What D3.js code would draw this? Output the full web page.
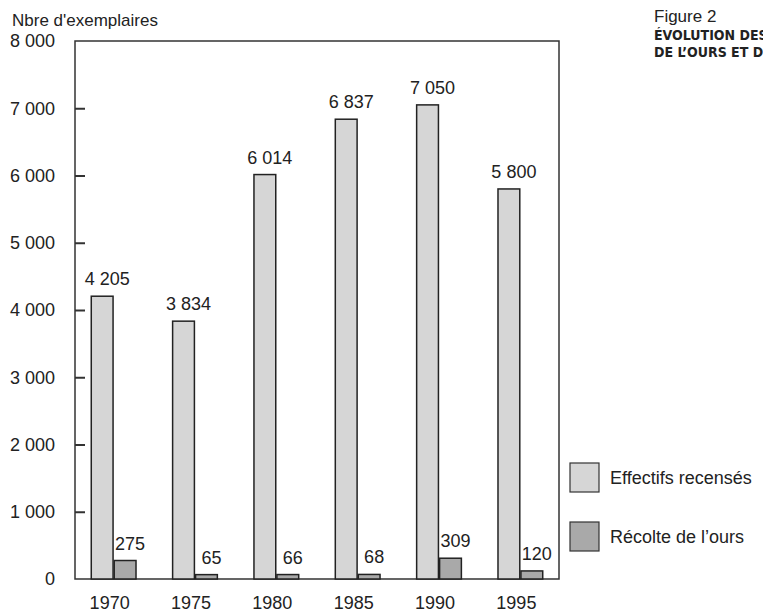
<!DOCTYPE html>
<html>
<head>
<meta charset="utf-8">
<script src="https://cdn.jsdelivr.net/npm/d3@7"></script>
<style>
  body { margin: 0; background: #fff; }
  text { font-family: "Liberation Sans", Arial, sans-serif; fill: #222; }
  .title-bold { font-family: "Liberation Sans Narrow", "DejaVu Sans Condensed", sans-serif; font-weight: bold; }
</style>
</head>
<body>
<svg></svg>
<script>
// Data
const years = ["1970", "1975", "1980", "1985", "1990", "1995"];
const effectifs = [4205, 3834, 6014, 6837, 7050, 5800];
const recolte = [275, 65, 66, 68, 309, 120];
const seriesNames = ["Effectifs recensés", "Récolte de l\u2019ours"];
const yTicks = [0, 1000, 2000, 3000, 4000, 5000, 6000, 7000, 8000];

// Svg element dimensions
const width = 763;
const height = 613;
const svg = d3.select("svg").attr("width", width).attr("height", height);

const frame = { left: 75, right: 559, top: 41, bottom: 579 };
const colors = ["#d6d6d6", "#a9a9a9"];

// French number format: "4 205"
const fr = d3.formatLocale({ decimal: ",", thousands: " ", grouping: [3], currency: ["", " €"] });
const fmt = fr.format(",d");

// Scales
const x = d3.scaleBand().domain(years).range([frame.left, frame.right]).paddingInner(0.45).paddingOuter(0.2);
const xSub = d3.scaleBand().domain([0, 1]).range([0, x.bandwidth()]).paddingInner(0.05);
const y = d3.scaleLinear().domain([0, 8000]).range([frame.bottom, frame.top]);

// Frame
svg.append("rect")
  .attr("x", frame.left).attr("y", frame.top)
  .attr("width", frame.right - frame.left).attr("height", frame.bottom - frame.top)
  .attr("fill", "none").attr("stroke", "#333").attr("stroke-width", 1.5);

// Y axis (ticks pointing inside)
const yAxisG = svg.append("g")
  .attr("transform", `translate(${frame.left},0)`)
  .call(d3.axisRight(y).tickValues(yTicks).tickSize(10).tickFormat(fmt));
yAxisG.select(".domain").remove();
yAxisG.selectAll(".tick line").attr("stroke", "#333").attr("stroke-width", 2);
yAxisG.selectAll(".tick text")
  .attr("x", -20).attr("text-anchor", "end")
  .style("font-size", "18px").style("font-family", "Liberation Sans, Arial, sans-serif")
  .attr("fill", "#222");
yAxisG.selectAll(".tick").filter(d => d === 0 || d === 8000).select("line").remove();

// X axis labels
const xAxisG = svg.append("g")
  .attr("transform", `translate(${-4},${frame.bottom})`)
  .call(d3.axisBottom(x).tickSize(0).tickPadding(17));
xAxisG.select(".domain").remove();
xAxisG.selectAll(".tick text")
  .style("font-size", "18px").style("font-family", "Liberation Sans, Arial, sans-serif")
  .attr("fill", "#222");

// Bars
const rows = years.map((yr, i) => ({ year: yr, values: [effectifs[i], recolte[i]] }));
const groups = svg.selectAll("g.group").data(rows).enter().append("g")
  .attr("class", "group")
  .attr("transform", d => `translate(${x(d.year)},0)`);

groups.selectAll("rect")
  .data(d => d.values.map((v, k) => ({ v, k })))
  .enter().append("rect")
  .attr("x", d => xSub(d.k))
  .attr("width", xSub.bandwidth())
  .attr("y", d => y(d.v))
  .attr("height", d => y(0) - y(d.v))
  .attr("fill", d => colors[d.k])
  .attr("stroke", "#222").attr("stroke-width", 1.5);

groups.selectAll("text.val")
  .data(d => d.values.map((v, k) => ({ v, k })))
  .enter().append("text")
  .attr("class", "val")
  .attr("x", d => xSub(d.k) + xSub.bandwidth() / 2 + 5)
  .attr("y", d => y(d.v) - 11)
  .attr("text-anchor", "middle")
  .style("font-size", "18px")
  .text(d => fmt(d.v));

// Axis title
svg.append("text").attr("x", 12).attr("y", 26).style("font-size", "17px").text("Nbre d'exemplaires");

// Legend
const legend = svg.append("g").attr("transform", "translate(570,463)");
seriesNames.forEach((name, i) => {
  const row = legend.append("g").attr("transform", `translate(0,${i * 59})`);
  row.append("rect").attr("width", 29).attr("height", 29)
    .attr("fill", colors[i]).attr("stroke", "#333").attr("stroke-width", 1.2);
  row.append("text").attr("x", 40).attr("y", 21).style("font-size", "18px").text(name);
});

// Figure title (cut off by the page edge, as in the original)
svg.append("text").attr("x", 654).attr("y", 22).style("font-size", "17px").text("Figure 2");
svg.append("text").attr("class", "title-bold").attr("x", 654).attr("y", 40).style("font-size", "14px")
  .text("ÉVOLUTION DES EFFECTIFS");
svg.append("text").attr("class", "title-bold").attr("x", 654).attr("y", 57).style("font-size", "14px")
  .text("DE L\u2019OURS ET DE SA RÉCOLTE");
</script>
</body>
</html>
